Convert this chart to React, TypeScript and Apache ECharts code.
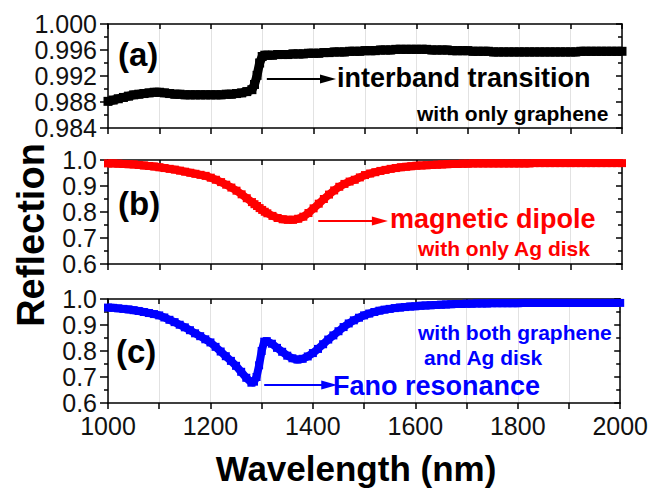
import React, { useEffect, useRef } from "react";
import * as echarts from "echarts";

// Wavelength samples (nm)
const wavelengths = [
  1000, 1010, 1020, 1030, 1040, 1050, 1060, 1070, 1080, 1090,
  1100, 1110, 1120, 1130, 1140, 1150, 1160, 1170, 1180, 1190,
  1200, 1210, 1220, 1230, 1240, 1250, 1260, 1270, 1280,
  1285, 1290, 1295, 1300, 1305,
  1310, 1320, 1330, 1340, 1350, 1360, 1370, 1380, 1390, 1400,
  1410, 1420, 1430, 1440, 1450, 1460, 1470, 1480, 1490, 1500,
  1510, 1520, 1530, 1540, 1550, 1560, 1570, 1580, 1590, 1600,
  1610, 1620, 1630, 1640, 1650, 1660, 1670, 1680, 1690, 1700,
  1710, 1720, 1730, 1740, 1750, 1760, 1770, 1780, 1790, 1800,
  1810, 1820, 1830, 1840, 1850, 1860, 1870, 1880, 1890, 1900,
  1910, 1920, 1930, 1940, 1950, 1960, 1970, 1980, 1990, 2000,
];

// (a) with only graphene
const onlyGraphene = [
  0.9881, 0.9883, 0.9885, 0.9887, 0.9889, 0.9891, 0.9892, 0.9893, 0.9894, 0.9895,
  0.9895, 0.9894, 0.9893, 0.9892, 0.9892, 0.9891, 0.9891, 0.9891, 0.9891, 0.9891,
  0.9891, 0.9891, 0.9891, 0.9892, 0.9892, 0.9893, 0.9894, 0.9896, 0.9899,
  0.9907, 0.9921, 0.994, 0.995, 0.9952,
  0.9952, 0.9952, 0.9953, 0.9953, 0.9953, 0.9954, 0.9954, 0.9954, 0.9955, 0.9955,
  0.9955, 0.9956, 0.9956, 0.9957, 0.9957, 0.9957, 0.9958, 0.9958, 0.9958, 0.9959,
  0.9959, 0.9959, 0.996, 0.996, 0.996, 0.9961, 0.9961, 0.9961, 0.9961, 0.9961,
  0.9961, 0.9961, 0.996, 0.996, 0.996, 0.996, 0.9959, 0.9959, 0.9959, 0.9959,
  0.9958, 0.9958, 0.9958, 0.9958, 0.9957, 0.9957, 0.9957, 0.9957, 0.9957, 0.9957,
  0.9957, 0.9957, 0.9957, 0.9957, 0.9957, 0.9957, 0.9957, 0.9957, 0.9957, 0.9957,
  0.9957, 0.9958, 0.9958, 0.9958, 0.9958, 0.9958, 0.9958, 0.9958, 0.9958, 0.9958,
];

// (b) with only Ag disk
const onlyAgDisk = [
  0.987, 0.987, 0.986, 0.985, 0.984, 0.983, 0.981, 0.979, 0.977, 0.975,
  0.972, 0.969, 0.966, 0.963, 0.959, 0.955, 0.951, 0.947, 0.943, 0.939,
  0.932, 0.924, 0.915, 0.905, 0.894, 0.882, 0.868, 0.853, 0.838,
  0.83, 0.823, 0.815, 0.808, 0.801,
  0.795, 0.785, 0.777, 0.772, 0.77, 0.77, 0.774, 0.782, 0.796, 0.814,
  0.832, 0.85, 0.867, 0.883, 0.897, 0.908, 0.917, 0.924, 0.933, 0.942,
  0.948, 0.953, 0.958, 0.962, 0.966, 0.969, 0.972, 0.974, 0.976, 0.978,
  0.979, 0.98, 0.981, 0.982, 0.983, 0.984, 0.985, 0.985, 0.986, 0.986,
  0.987, 0.987, 0.987, 0.987, 0.987, 0.987, 0.987, 0.987, 0.987, 0.987,
  0.987, 0.987, 0.988, 0.988, 0.988, 0.988, 0.988, 0.988, 0.988, 0.988,
  0.988, 0.988, 0.988, 0.988, 0.988, 0.988, 0.988, 0.988, 0.988, 0.988,
];

// (c) with both graphene and Ag disk
const bothGrapheneAg = [
  0.967, 0.966, 0.964, 0.962, 0.96, 0.957, 0.954, 0.95, 0.946, 0.942,
  0.937, 0.929, 0.92, 0.911, 0.901, 0.891, 0.88, 0.868, 0.857, 0.845,
  0.833, 0.816, 0.798, 0.78, 0.762, 0.743, 0.72, 0.697, 0.678,
  0.682, 0.7, 0.745, 0.8, 0.836,
  0.838, 0.828, 0.812, 0.797, 0.782, 0.772, 0.767, 0.77, 0.779, 0.792,
  0.808, 0.826, 0.844, 0.86, 0.876, 0.892, 0.906, 0.918, 0.928, 0.937,
  0.944, 0.95, 0.955, 0.959, 0.962, 0.965, 0.967, 0.969, 0.971, 0.972,
  0.974, 0.975, 0.976, 0.977, 0.978, 0.979, 0.98, 0.981, 0.981, 0.982,
  0.982, 0.983, 0.983, 0.983, 0.984, 0.984, 0.984, 0.984, 0.984, 0.984,
  0.985, 0.985, 0.985, 0.985, 0.985, 0.985, 0.985, 0.985, 0.985, 0.985,
  0.985, 0.985, 0.985, 0.985, 0.985, 0.985, 0.985, 0.985, 0.985, 0.985,
];

// Axis ranges / ticks
const xRange = [1000, 2000];
const xTickStep = 100;
const xLabelStep = 200;
const yRangeA = [0.984, 1.0];
const yStepA = 0.004;
const yRangeBC = [0.6, 1.0];
const yStepBC = 0.1;

// Annotation arrows (data coordinates)
const arrowA = [[1309, 0.99154], [1428, 0.99154]];
const arrowB = [[1409, 0.7654], [1529, 0.7654]];
const arrowC = [[1305, 0.669], [1432, 0.669]];

const FONT = '"Liberation Sans", Arial, Helvetica, sans-serif';

export default function App() {
  const ref = useRef<HTMLDivElement>(null);

  useEffect(() => {
    if (!ref.current) return;
    const chart = echarts.init(ref.current, null, { renderer: "svg" });

    const axisColor = "#000";
    const lineStyle = { color: axisColor, width: 1.5 };
    const grids = [
      { left: 108, width: 514, top: 24, height: 104 },
      { left: 108, width: 514, top: 160, height: 104 },
      { left: 108, width: 514, top: 299, height: 104 },
    ];

    const xAxes: any[] = [];
    const yAxes: any[] = [];
    grids.forEach((_, i) => {
      xAxes.push({
        type: "value",
        gridIndex: i,
        position: "bottom",
        min: xRange[0],
        max: xRange[1],
        interval: xTickStep,
        axisLine: { show: true, onZero: false, lineStyle },
        axisTick: { show: true, inside: false, length: 6, lineStyle },
        axisLabel: {
          show: i === 2,
          margin: 10,
          fontSize: 25,
          fontFamily: FONT,
          color: "#111",
          formatter: (v: number) => (v % xLabelStep === 0 ? String(v) : ""),
          showMinLabel: true,
          showMaxLabel: true,
        },
        splitLine: { show: true, lineStyle: { color: "#e2e2e2", width: 1 } },
      });
      xAxes.push({
        type: "value",
        gridIndex: i,
        position: "top",
        min: xRange[0],
        max: xRange[1],
        interval: xTickStep,
        axisLine: { show: true, onZero: false, lineStyle },
        axisTick: { show: true, inside: true, length: 5, lineStyle },
        axisLabel: { show: false },
        splitLine: { show: false },
      });
      const isA = i === 0;
      const yr = isA ? yRangeA : yRangeBC;
      const ys = isA ? yStepA : yStepBC;
      yAxes.push({
        type: "value",
        gridIndex: i,
        position: "left",
        min: yr[0],
        max: yr[1],
        interval: ys,
        axisLine: { show: true, onZero: false, lineStyle },
        axisTick: { show: true, inside: false, length: 8, lineStyle },
        minorTick: { show: true, splitNumber: 2, length: 4, lineStyle },
        axisLabel: {
          margin: 11,
          fontSize: 25,
          fontFamily: FONT,
          color: "#111",
          formatter: (v: number) => v.toFixed(isA ? 3 : 1),
        },
        splitLine: { show: false },
      });
      yAxes.push({
        type: "value",
        gridIndex: i,
        position: "right",
        min: yr[0],
        max: yr[1],
        interval: ys,
        axisLine: { show: true, onZero: false, lineStyle },
        axisTick: { show: true, inside: true, length: 6, lineStyle },
        minorTick: { show: true, splitNumber: 2, length: 4, lineStyle },
        axisLabel: { show: false },
        splitLine: { show: false },
      });
    });

    const mk = (
      vals: number[],
      color: string,
      idx: number,
      arrow: number[][],
      width: number
    ) => ({
      type: "line",
      xAxisIndex: idx * 2,
      yAxisIndex: idx * 2,
      data: wavelengths.map((w, k) => [w, vals[k]]),
      symbol: "rect",
      symbolSize: width,
      showSymbol: true,
      lineStyle: { color, width },
      itemStyle: { color },
      z: 3,
      markLine: {
        silent: true,
        symbol: ["none", "triangle"],
        symbolSize: [9, 16],
        label: { show: false },
        lineStyle: { color, width: 2, type: "solid" },
        data: [[{ coord: arrow[0] }, { coord: arrow[1] }]],
      },
    });

    const txt = (
      text: string,
      x: number,
      y: number,
      size: number,
      fill: string,
      extra: any = {}
    ) => ({
      type: "text",
      x,
      y,
      z: 10,
      ...extra,
      style: {
        text,
        fill,
        fontSize: size,
        fontWeight: "bold",
        fontFamily: FONT,
        verticalAlign: "middle",
        align: extra.align || "left",
      },
    });

    chart.setOption({
      animation: false,
      backgroundColor: "#fff",
      grid: grids,
      xAxis: xAxes,
      yAxis: yAxes,
      series: [
        mk(onlyGraphene, "#000", 0, arrowA, 9),
        mk(onlyAgDisk, "#ff0000", 1, arrowB, 8),
        mk(bothGrapheneAg, "#0000ff", 2, arrowC, 8),
      ],
      graphic: [
        txt("(a)", 118, 54, 33, "#000"),
        txt("(b)", 118, 203, 33, "#000"),
        txt("(c)", 116, 351, 33, "#000"),
        txt("interband transition", 337, 78, 27, "#000"),
        txt("with only graphene", 417, 113, 21, "#000"),
        txt("magnetic dipole", 390, 219, 27, "#ff0000"),
        txt("with only Ag disk", 418, 248, 21, "#ff0000"),
        txt("with both graphene", 418, 332, 21, "#0000ff"),
        txt("and Ag disk", 424, 357, 21, "#0000ff"),
        txt("Fano resonance", 333, 386, 27, "#0000ff"),
        txt("Reflection", 31, 235, 38, "#000", {
          rotation: Math.PI / 2,
          align: "center",
        }),
        txt("Wavelength (nm)", 356, 468, 35, "#000", { align: "center" }),
      ],
    });

    return () => chart.dispose();
  }, []);

  return (
    <div
      ref={ref}
      style={{
        position: "fixed",
        left: 0,
        top: 0,
        width: 651,
        height: 494,
        background: "#fff",
      }}
    />
  );
}
